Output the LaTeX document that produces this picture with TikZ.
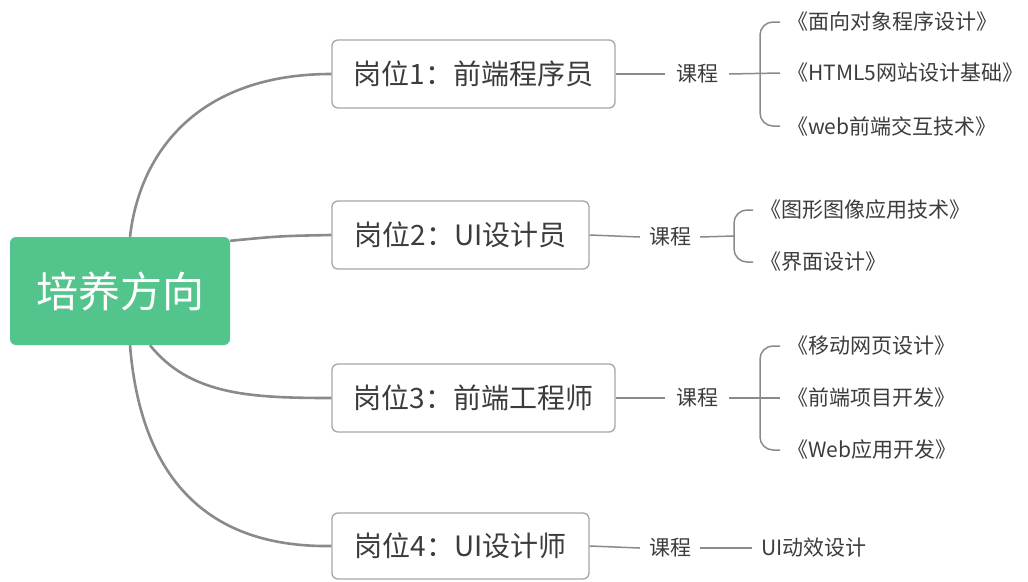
\documentclass[tikz,border=0pt]{standalone}
\usepackage{fontspec}
\setmainfont{Noto Sans CJK SC}
\definecolor{rootgreen}{HTML}{52C48C}
\definecolor{branchgray}{HTML}{8A8A8A}
\definecolor{boxgray}{HTML}{A6A6A6}
\definecolor{txt}{HTML}{3C3C3C}
\begin{document}
\begin{tikzpicture}[x=1pt,y=-1pt,
  rootbox/.style={fill=rootgreen, rounded corners=6pt, minimum width=220pt, minimum height=108pt, text=white, inner sep=0pt, font=\fontsize{42}{50}\selectfont},
  jobbox/.style={draw=boxgray, line width=1.3pt, rounded corners=6pt, fill=white, minimum height=68pt, inner sep=0pt, text=txt, font=\fontsize{28}{34}\selectfont},
  kc/.style={text=txt, inner xsep=11pt, inner ysep=0pt, font=\fontsize{21}{25}\selectfont},
  item/.style={anchor=west, text=txt, inner xsep=7pt, inner ysep=0pt, font=\fontsize{21}{25}\selectfont},
  branch/.style={draw=branchgray, line width=2.6pt},
  link/.style={draw=branchgray, line width=1.5pt},
  bracket/.style={draw=branchgray, line width=1.5pt, rounded corners=13pt}
]
\useasboundingbox (0,0) rectangle (1028,581);

% job boxes
\node[jobbox, minimum width=283pt] (j1) at (473.5,74) {岗位1：前端程序员};
\node[jobbox, minimum width=257pt] (j2) at (460.5,235) {岗位2：UI设计员};
\node[jobbox, minimum width=283pt] (j3) at (473.5,398) {岗位3：前端工程师};
\node[jobbox, minimum width=257pt, minimum height=66pt] (j4) at (460.5,546) {岗位4：UI设计师};

% root node (placed for anchors, drawn after branches)
\path (120,291) node[minimum width=220pt, minimum height=108pt, inner sep=0pt] (rootpos) {};

% branches
\draw[branch] ([xshift=10pt]rootpos.north) .. controls (140,150) and (200,74) .. (j1.west);
\draw[branch] ([yshift=-4pt]rootpos.north east) .. controls (280,236) .. (j2.west);
\draw[branch] ([xshift=30pt]rootpos.south) .. controls (190,395) and (250,398) .. (j3.west);
\draw[branch] ([xshift=10pt]rootpos.south) .. controls (140,470) and (200,548) .. (j4.west);

\node[rootbox] (root) at (120,291) {培养方向};

% course labels
\node[kc] (k1) at (697,74) {课程};
\node[kc, inner xsep=9pt] (k2) at (670,237) {课程};
\node[kc] (k3) at (697,398) {课程};
\node[kc, inner xsep=9pt] (k4) at (670,548) {课程};

\draw[link] (j1.east) -- (k1.west);
\draw[link] (j2.east) -- (k2.west);
\draw[link] (j3.east) -- (k3.west);
\draw[link] (j4.east) -- (k4.west);

% items group 1
\node[item] (i11) at (780,22) {《面向对象程序设计》};
\node[item] (i12) at (780,73) {《HTML5网站设计基础》};
\node[item] (i13) at (780,126) {《web前端交互技术》};
\draw[bracket] (i11.west) -- ++(-20,0) |- (i13.west);
\draw[link] (k1.east) -- (i12.west);

% items group 2
\node[item] (i21) at (753,210) {《图形图像应用技术》};
\node[item] (i22) at (753,262) {《界面设计》};
\coordinate (b2) at (734,236);
\draw[bracket] (i21.west) -- ++(-19,0) |- (i22.west);
\draw[link] (k2.east) -- (b2);

% items group 3
\node[item] (i31) at (780,346) {《移动网页设计》};
\node[item] (i32) at (780,398) {《前端项目开发》};
\node[item] (i33) at (780,450) {《Web应用开发》};
\draw[bracket] (i31.west) -- ++(-20,0) |- (i33.west);
\draw[link] (k3.east) -- (i32.west);

% item group 4
\node[item, inner xsep=9pt] (i41) at (752,548) {UI动效设计};
\draw[link] (k4.east) -- (i41.west);
\end{tikzpicture}
\end{document}
